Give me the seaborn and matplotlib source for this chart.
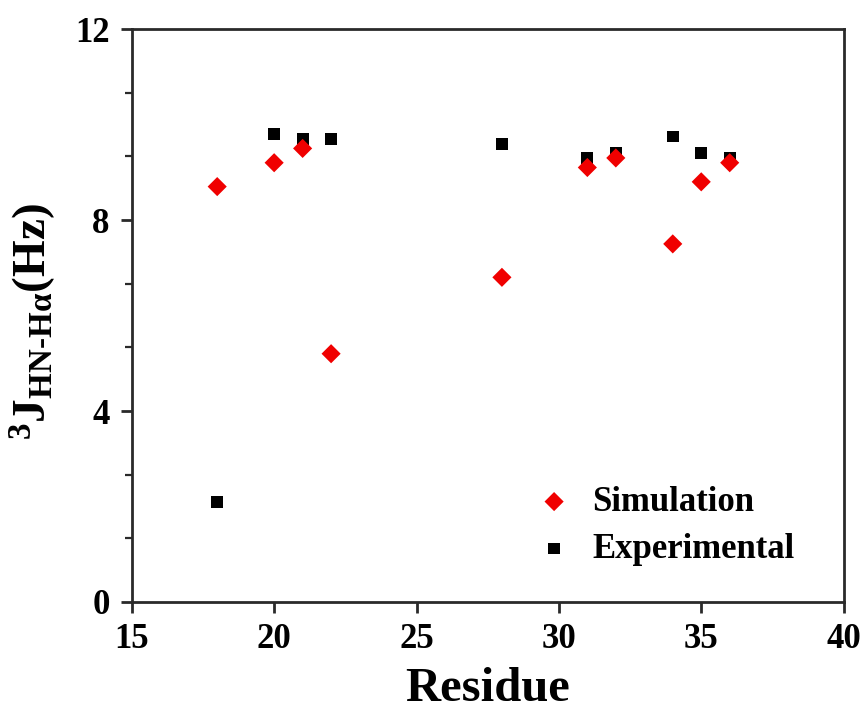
import matplotlib
matplotlib.use("Agg")
import matplotlib.pyplot as plt
from matplotlib.ticker import MultipleLocator
import seaborn as sns
import pandas as pd

residues = [18, 20, 21, 22, 28, 31, 32, 34, 35, 36]
simulation = [8.7, 9.2, 9.5, 5.2, 6.8, 9.1, 9.3, 7.5, 8.8, 9.2]
experimental = [2.1, 9.8, 9.7, 9.7, 9.6, 9.3, 9.4, 9.75, 9.4, 9.3]
x_ticks = [15, 20, 25, 30, 35, 40]
y_ticks = [0, 4, 8, 12]

sns.set_theme(style="ticks")
plt.rcParams["font.family"] = ["Liberation Serif", "DejaVu Serif"]
plt.rcParams["font.weight"] = "bold"
plt.rcParams["text.color"] = "black"
plt.rcParams["axes.labelcolor"] = "black"
plt.rcParams["xtick.labelcolor"] = "black"
plt.rcParams["ytick.labelcolor"] = "black"
plt.rcParams["mathtext.fontset"] = "custom"
plt.rcParams["mathtext.rm"] = "Liberation Serif:bold"
plt.rcParams["mathtext.bf"] = "Liberation Serif:bold"
plt.rcParams["mathtext.it"] = "Liberation Serif:bold"

df = pd.DataFrame({"Residue": residues, "Simulation": simulation,
                   "Experimental": experimental})

fig = plt.figure(figsize=(8.67, 7.17), dpi=100)
ax = fig.add_axes([0.152, 0.1604, 0.821, 0.7991])

sns.scatterplot(data=df, x="Residue", y="Experimental", ax=ax, marker="s",
                color="black", s=72, edgecolor="none", label="Experimental", zorder=3)
sns.scatterplot(data=df, x="Residue", y="Simulation", ax=ax, marker="D",
                color="#f00000", s=95, edgecolor="none", label="Simulation", zorder=4)

ax.set_xlim(15, 40)
ax.set_ylim(0, 12)
ax.set_xticks(x_ticks)
ax.set_yticks(y_ticks)
ax.yaxis.set_minor_locator(MultipleLocator(4 / 3))

for side in ["left", "bottom", "top", "right"]:
    ax.spines[side].set_visible(True)
    ax.spines[side].set_linewidth(2.0)
    ax.spines[side].set_color("#2a2a2a")

ax.tick_params(axis="both", which="major", direction="out", length=8, width=2,
               color="#2a2a2a", labelcolor="black", labelsize=25)
ax.tick_params(axis="x", which="major", pad=7)
ax.tick_params(axis="y", which="major", pad=8)
ax.tick_params(axis="y", which="minor", direction="out", length=5, width=1.6,
               color="#2a2a2a")
for lbl in ax.get_xticklabels() + ax.get_yticklabels():
    lbl.set_fontweight("bold")

ax.set_xlabel("Residue", fontsize=35, fontweight="bold", labelpad=8, color="black")
ax.set_ylabel(r"$^{3}\mathrm{J}_{\mathrm{HN\text{-}H}\alpha}\mathrm{(Hz)}$",
              fontsize=34, color="black")
ax.yaxis.set_label_coords(-0.104, 0.49)

handles, labels = ax.get_legend_handles_labels()
order = [labels.index("Simulation"), labels.index("Experimental")]
leg = ax.legend([handles[i] for i in order], [labels[i] for i in order],
                loc="lower right", bbox_to_anchor=(0.975, 0.009), frameon=False,
                prop={"family": "Liberation Serif", "weight": "bold", "size": 25},
                handletextpad=0.4, handlelength=1.4, labelspacing=0.4,
                markerscale=1.0)
for txt in leg.get_texts():
    txt.set_color("black")

fig.savefig("out.png", dpi=100)
